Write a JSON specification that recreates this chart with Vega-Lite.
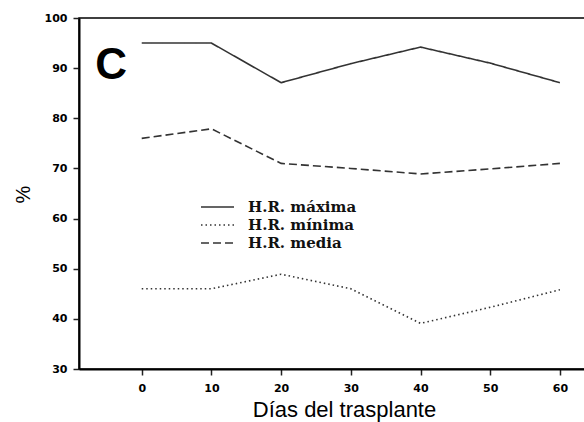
{
  "$schema": "https://vega.github.io/schema/vega-lite/v6.json",
  "width": 506,
  "height": 351,
  "autosize": {"type": "none"},
  "padding": {"left": 79, "top": 18, "right": 0, "bottom": 53},
  "background": "white",
  "config": {
    "view": {"stroke": "black", "strokeWidth": 1.5},
    "axis": {
      "domainColor": "black",
      "domainWidth": 2,
      "tickColor": "#222",
      "tickWidth": 1.5,
      "tickSize": 6,
      "grid": false,
      "labelFont": "DejaVu Sans",
      "labelFontWeight": "bold",
      "labelFontSize": 11,
      "labelColor": "black",
      "titleFont": "Liberation Sans",
      "titleFontWeight": "normal",
      "titleColor": "black"
    }
  },
  "layer": [
    {
      "data": {
        "values": [
          {"dia": 0, "hr": 95, "serie": "H.R. máxima"},
          {"dia": 10, "hr": 95, "serie": "H.R. máxima"},
          {"dia": 20, "hr": 87.1, "serie": "H.R. máxima"},
          {"dia": 30, "hr": 90.9, "serie": "H.R. máxima"},
          {"dia": 40, "hr": 94.2, "serie": "H.R. máxima"},
          {"dia": 50, "hr": 91, "serie": "H.R. máxima"},
          {"dia": 60, "hr": 87.1, "serie": "H.R. máxima"},
          {"dia": 0, "hr": 46, "serie": "H.R. mínima"},
          {"dia": 10, "hr": 46, "serie": "H.R. mínima"},
          {"dia": 20, "hr": 48.9, "serie": "H.R. mínima"},
          {"dia": 30, "hr": 46, "serie": "H.R. mínima"},
          {"dia": 40, "hr": 39.1, "serie": "H.R. mínima"},
          {"dia": 50, "hr": 42.3, "serie": "H.R. mínima"},
          {"dia": 60, "hr": 45.8, "serie": "H.R. mínima"},
          {"dia": 0, "hr": 76, "serie": "H.R. media"},
          {"dia": 10, "hr": 77.9, "serie": "H.R. media"},
          {"dia": 20, "hr": 71, "serie": "H.R. media"},
          {"dia": 30, "hr": 70, "serie": "H.R. media"},
          {"dia": 40, "hr": 68.9, "serie": "H.R. media"},
          {"dia": 50, "hr": 69.9, "serie": "H.R. media"},
          {"dia": 60, "hr": 71, "serie": "H.R. media"}
        ]
      },
      "mark": {"type": "line", "color": "#333", "strokeWidth": 1.6},
      "encoding": {
        "x": {
          "field": "dia",
          "type": "quantitative",
          "scale": {"domain": [-9, 63.6], "nice": false, "zero": false},
          "axis": {
            "values": [0, 10, 20, 30, 40, 50, 60],
            "title": "Días del trasplante",
            "titleFontSize": 22,
            "titleX": 265,
            "titleY": 47,
            "titleBaseline": "alphabetic",
            "labelPadding": 7
          }
        },
        "y": {
          "field": "hr",
          "type": "quantitative",
          "scale": {"domain": [30, 100], "nice": false, "zero": false},
          "axis": {
            "values": [30, 40, 50, 60, 70, 80, 90, 100],
            "title": "%",
            "titleFontSize": 20,
            "titleAngle": -90,
            "titleX": -56,
            "titleY": 176,
            "titleAlign": "center",
            "titleBaseline": "middle",
            "labelPadding": 6
          }
        },
        "strokeDash": {
          "field": "serie",
          "type": "nominal",
          "scale": {
            "domain": ["H.R. máxima", "H.R. mínima", "H.R. media"],
            "range": [[1, 0], [1.5, 3], [8, 4]]
          },
          "legend": {
            "title": null,
            "orient": "none",
            "legendX": 121,
            "legendY": 180,
            "padding": 0,
            "symbolType": "stroke",
            "symbolSize": 1089,
            "symbolStrokeColor": "#333",
            "symbolStrokeWidth": 1.6,
            "labelFont": "DejaVu Serif",
            "labelFontWeight": "bold",
            "labelFontSize": 15,
            "labelColor": "#111",
            "labelOffset": 13,
            "clipHeight": 18,
            "rowPadding": 0
          }
        }
      }
    },
    {
      "data": {"values": [{"dia": -4.4, "hr": 90.5, "label": "C"}]},
      "mark": {
        "type": "text",
        "font": "Liberation Sans",
        "fontWeight": "bold",
        "fontSize": 44,
        "align": "center",
        "baseline": "middle",
        "color": "black"
      },
      "encoding": {
        "x": {"field": "dia", "type": "quantitative"},
        "y": {"field": "hr", "type": "quantitative"},
        "text": {"field": "label"}
      }
    }
  ]
}
